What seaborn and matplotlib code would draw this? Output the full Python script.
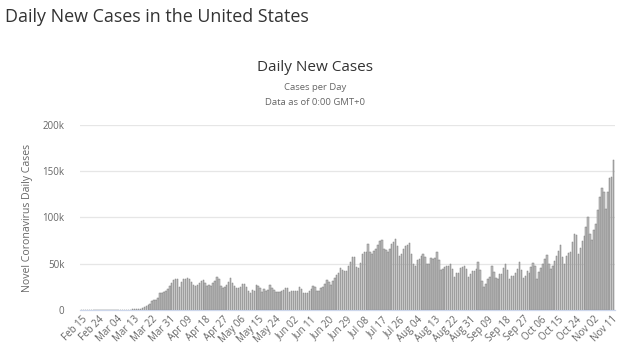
import pandas as pd
import matplotlib.pyplot as plt
import seaborn as sns

# Daily new cases, Feb 15 - Nov 12
feb = [0, 0, 0, 0, 0, 0, 0, 0, 0, 0, 0, 0, 0, 0, 0]  # Feb 15-29
mar = [0, 20, 24, 22, 78, 110, 100, 110, 180, 290, 400, 500, 600, 700, 1000,
       900, 1800, 2800, 4700, 5600, 6400, 9300, 10600, 11200, 13400, 17900,
       18700, 19500, 20200, 22300, 26200]
apr = [28800, 32100, 33300, 33400, 25300, 30200, 33300, 33300, 35000, 33500,
       30000, 27500, 25500, 27000, 29500, 31500, 32000, 29000, 26000, 27500,
       26000, 29000, 31000, 36000, 34000, 26000, 23500, 25000, 27000, 30000]
may = [35000, 29000, 26000, 24000, 24000, 25000, 28000, 28000, 25000, 20000,
       18600, 22000, 21000, 27000, 26000, 24000, 19000, 23000, 20000, 22000,
       27000, 24000, 22000, 19000, 19000, 19000, 20000, 22000, 24000, 24000,
       19000]
jun = [21000, 21000, 20000, 21000, 25000, 23000, 18000, 18500, 18000, 21000,
       23000, 26000, 25000, 20000, 20000, 24000, 25000, 28000, 32000, 30000,
       27000, 31000, 35000, 38000, 40000, 45000, 43000, 42000, 42000, 47000]
jul = [52000, 57000, 57000, 46000, 45000, 51000, 60000, 63000, 63000, 71000,
       63000, 61000, 64000, 66000, 70000, 75000, 76000, 66000, 65000, 63000,
       66000, 71000, 73000, 77000, 69000, 58000, 60000, 66000, 69000, 70000,
       72000]
aug = [60000, 50000, 48000, 54000, 55000, 58000, 61000, 57000, 50000, 50000,
       56000, 55000, 56000, 63000, 54000, 43000, 44000, 46000, 47000, 47000,
       50000, 44000, 36000, 40000, 40000, 45000, 46000, 48000, 44000, 36000,
       39000]
sep = [42000, 42000, 44000, 52000, 43000, 31000, 25000, 28000, 34000, 36000,
       47000, 41000, 35000, 33000, 39000, 39000, 45000, 50000, 43000, 34000,
       37000, 37000, 40000, 44000, 52000, 43000, 35000, 37000, 42000, 40000]
oct_ = [46000, 51000, 48000, 34000, 41000, 45000, 50000, 55000, 59000, 50000,
        44000, 47000, 53000, 58000, 64000, 70000, 57000, 50000, 58000, 62000,
        63000, 73000, 82000, 81000, 60000, 67000, 75000, 80000, 90000, 100000,
        82000]
nov = [76000, 86000, 93000, 108000, 122000, 132000, 128000, 109000, 128000,
       143000, 144000, 162000]

cases = feb + mar + apr + may + jun + jul + aug + sep + oct_ + nov
dates = pd.date_range('2020-02-15', periods=len(cases), freq='D')
df = pd.DataFrame({'day': range(len(cases)), 'cases': cases})

plt.rcParams['font.family'] = ['Open Sans', 'DejaVu Sans']

fig = plt.figure(figsize=(6.24, 3.6), dpi=100)
ax = fig.add_axes([0.128, 0.139, 0.858, 0.514])

sns.barplot(data=df, x='day', y='cases', color='#bcbcbc', width=0.72,
            edgecolor='#7f7f7f', linewidth=0.35, saturation=1, ax=ax)

ax.set_ylim(0, 200000)
ax.set_xlim(-0.8, len(cases) - 0.2)
ax.set_yticks([0, 50000, 100000, 150000, 200000])
ax.set_yticklabels(['0', '50k', '100k', '150k', '200k'])
ticks = list(range(0, len(cases), 9))
ax.set_xticks(ticks)
ax.set_xticklabels([dates[i].strftime('%b %d') for i in ticks],
                   rotation=45, ha='right', rotation_mode='anchor')
ax.tick_params(axis='x', length=0, labelsize=7, colors='#666666', pad=3)
ax.tick_params(axis='y', length=0, labelsize=7, colors='#666666', pad=11)

ax.grid(axis='y', color='#e6e6e6', linewidth=0.9)
ax.set_axisbelow(True)
for s in ['top', 'right', 'left']:
    ax.spines[s].set_visible(False)
ax.spines['bottom'].set_color('#ccd6eb')
ax.spines['bottom'].set_linewidth(0.9)

ax.set_xlabel('')
ax.set_ylabel('Novel Coronavirus Daily Cases', fontsize=7.6, color='#666666',
              labelpad=7)

fig.text(0.008, 0.953, 'Daily New Cases in the United States', fontsize=12.9,
         color='#333333', ha='left', va='center')
fig.text(0.505, 0.813, 'Daily New Cases', fontsize=11, color='#333333',
         ha='center', va='center')
fig.text(0.505, 0.756, 'Cases per Day', fontsize=6.8, color='#666666',
         ha='center', va='center')
fig.text(0.505, 0.714, 'Data as of 0:00 GMT+0', fontsize=6.8, color='#666666',
         ha='center', va='center')

fig.savefig('out.png', dpi=100)
